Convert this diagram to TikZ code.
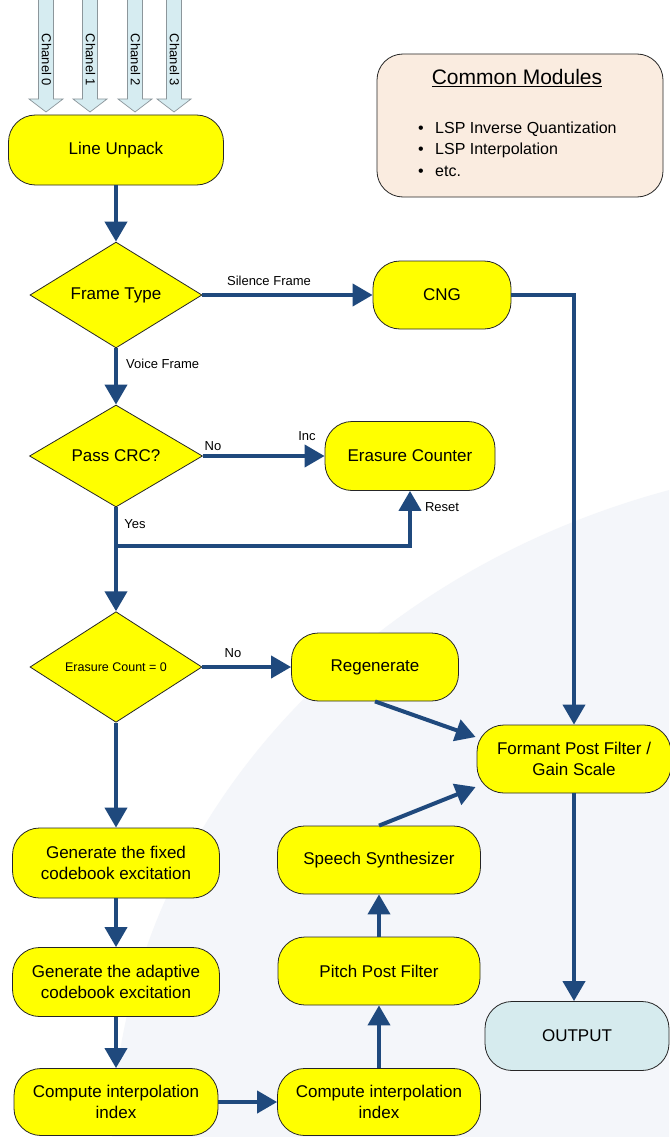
\documentclass[tikz,border=0pt]{standalone}
\usepackage{fontspec}
\setmainfont{Liberation Sans}
\usetikzlibrary{shapes.geometric,arrows.meta,calc}
\definecolor{arrowblue}{RGB}{31,73,125}
\definecolor{boxyellow}{RGB}{255,255,0}
\definecolor{chanfill}{RGB}{214,236,241}
\definecolor{chanedge}{RGB}{140,150,155}
\definecolor{peach}{RGB}{250,236,224}
\definecolor{outblue}{RGB}{214,235,238}
\definecolor{bgarc}{RGB}{244,246,250}
\tikzset{
  procbox/.style={draw=black!85, fill=boxyellow, line width=0.8pt, rounded corners=27pt,
    align=center, inner sep=0pt, font=\fontsize{17}{21}\selectfont},
  decbox/.style={shape=diamond, draw=black!85, fill=boxyellow, line width=0.8pt,
    inner sep=0pt, align=center, font=\fontsize{17}{21}\selectfont},
  conn/.style={draw=arrowblue, line width=4pt, -{Triangle[length=20pt,width=22pt]}},
  lbl/.style={font=\fontsize{13}{15}\selectfont, inner sep=0pt},
  chanarrow/.style={draw=chanedge, fill=chanfill, line width=0.7pt},
  chanlabel/.style={font=\fontsize{13}{15}\selectfont, inner sep=0pt},
  listtext/.style={font=\fontsize{16}{19}\selectfont, inner sep=0pt, anchor=base west},
}
\begin{document}
\begin{tikzpicture}[x=1pt,y=-1pt]
\useasboundingbox (0,0) rectangle (669,1137);
\fill[white] (0,0) rectangle (669,1137);
\begin{scope}
  \clip (0,0) rectangle (669,1137);
  \fill[bgarc] (900,1150) ellipse [x radius=788, y radius=690];
\end{scope}

% channel input arrows
\foreach \cx/\n in {46/0,90/1,135/2,174/3} {
  \draw[chanarrow] ({\cx-7.5},-2) -- ({\cx+7.5},-2) -- ({\cx+7.5},99) -- ({\cx+17},99)
    -- (\cx,112) -- ({\cx-17},99) -- ({\cx-7.5},99) -- cycle;
  \node[chanlabel, rotate=-90] (ch\n) at ({\cx+0.5},60) {Chanel \n};
}

% common modules
\node[draw=black!85, fill=peach, line width=0.8pt, rounded corners=26pt,
      minimum width=286pt, minimum height=143pt, inner sep=0pt] (cm) at (520,125.5) {};
\node[font=\fontsize{21}{25}\selectfont, inner sep=0pt] (cmt) at (517,78) {\underline{Common Modules}};
\node[listtext] (b1) at (418,133) {\textbullet};
\node[listtext] (b2) at (418,154) {\textbullet};
\node[listtext] (b3) at (418,176) {\textbullet};
\node[listtext] (t1) at (435,133) {LSP Inverse Quantization};
\node[listtext] (t2) at (435,154) {LSP Interpolation};
\node[listtext] (t3) at (435,176) {etc.};

% process nodes
\node[procbox, minimum width=215pt, minimum height=70pt] (lu) at (116,150) {Line Unpack};
\node[decbox, minimum width=172pt, minimum height=100pt] (ft) at (116,295) {Frame Type};
\node[procbox, minimum width=138pt, minimum height=68pt] (cng) at (442,295) {CNG};
\node[decbox, minimum width=173pt, minimum height=102pt] (crc) at (116,456) {Pass CRC?};
\node[procbox, minimum width=170pt, minimum height=69pt] (ec) at (410,456) {Erasure Counter};
\node[decbox, minimum width=172pt, minimum height=103pt, font=\fontsize{12.5}{15}\selectfont] (eq) at (116,667) {Erasure Count = 0};
\node[procbox, minimum width=167pt, minimum height=68pt] (reg) at (375,667) {Regenerate};
\node[procbox, minimum width=194pt, minimum height=68pt] (fpf) at (574,759) {Formant Post Filter /\\Gain Scale};
\node[procbox, fill=outblue, minimum width=184pt, minimum height=69pt] (out) at (577,1036) {OUTPUT};
\node[procbox, minimum width=207pt, minimum height=70pt] (gf) at (116,863) {Generate the fixed\\codebook excitation};
\node[procbox, minimum width=207pt, minimum height=69pt] (ga) at (116,982) {Generate the adaptive\\codebook excitation};
\node[procbox, minimum width=204pt, minimum height=67pt] (ci1) at (116,1102) {Compute interpolation\\index};
\node[procbox, minimum width=203pt, minimum height=67pt] (ci2) at (379,1102) {Compute interpolation\\index};
\node[procbox, minimum width=202pt, minimum height=68pt] (pp) at (379,971) {Pitch Post Filter};
\node[procbox, minimum width=203pt, minimum height=68pt] (ss) at (379,860) {Speech Synthesizer};

% connectors
\draw[conn] (lu.south) -- (ft.north);
\draw[conn] (ft.east) -- (cng.west);
\draw[conn] (cng.east) -| (fpf.north);
\draw[conn] (ft.south) -- (crc.north);
\draw[conn] (crc.east) -- (ec.west);
\draw[conn] (crc.south) -- (eq.north);
\coordinate (j) at (116,546);
\draw[conn] (j) -| (ec.south);
\draw[conn] (eq.east) -- (reg.west);
\draw[conn] (eq.south) -- (gf.north);
\draw[conn] (reg.south) -- ($(fpf.west)+(-1,-22)$);
\draw[conn] (ss.north) -- ($(fpf.west)+(-1,28)$);
\draw[conn] (fpf.south) -- (fpf.south |- out.north);
\draw[conn] (gf.south) -- (ga.north);
\draw[conn] (ga.south) -- (ci1.north);
\draw[conn] (ci1.east) -- (ci2.west);
\draw[conn] (ci2.north) -- (pp.south);
\draw[conn] (pp.north) -- (ss.south);

% labels
\node[lbl] (lsf) at (269,281) {Silence Frame};
\node[lbl, anchor=west] (lvf) at (126,364) {Voice Frame};
\node[lbl] (lno1) at (213,446) {No};
\node[lbl] (linc) at (307,436) {Inc};
\node[lbl] (lyes) at (135,524) {Yes};
\node[lbl] (lres) at (442,507) {Reset};
\node[lbl] (lno2) at (233,653) {No};
\end{tikzpicture}
\end{document}
